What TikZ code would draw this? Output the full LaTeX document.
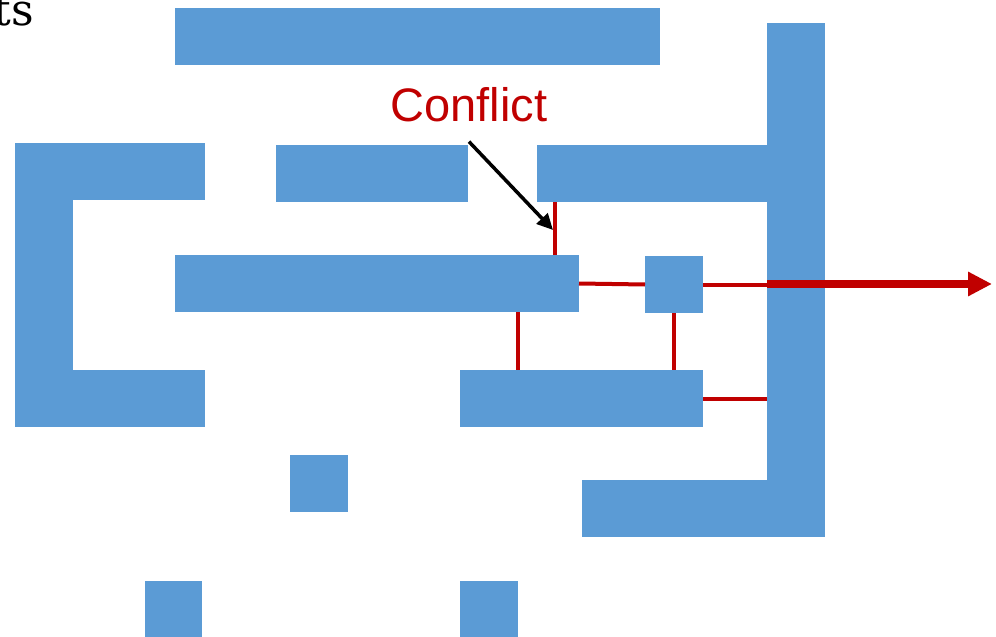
\documentclass[tikz,border=0pt]{standalone}
\usepackage{fontspec}
\setmainfont{Liberation Sans}
\newfontfamily\tsfont{DejaVu Serif}
\usetikzlibrary{arrows.meta}
\definecolor{wallblue}{HTML}{5B9BD5}
\definecolor{conflictred}{HTML}{C00000}

\tikzset{
  wall/.style={fill=wallblue, inner sep=0pt, outer sep=0pt},
  link/.style={draw=conflictred, line width=4pt},
  exitarrow/.style={draw=conflictred, line width=8pt, -{Triangle[length=24pt,width=23pt]}},
  pointer/.style={draw=black, line width=3.5pt, -{Triangle[length=16pt,width=15pt]}}
}

\begin{document}
\begin{tikzpicture}[x=1pt, y=-1pt]
\useasboundingbox (0,0) rectangle (996,637);

\node[anchor=base east, inner sep=0pt] (ts) at (34,25) {\tsfont\fontsize{44}{52}\selectfont ts};

% walls
\node[wall, minimum width=485pt, minimum height=57pt] (top) at (417.5,36.5) {};
\node[wall, minimum width=58pt, minimum height=514pt] (rbar) at (796,280) {};
\node[wall, minimum width=243pt, minimum height=57pt] (brbar) at (703.5,508.5) {};
\node[wall, minimum width=230pt, minimum height=57pt] (trbar) at (652,173.5) {};
\node[wall, minimum width=192pt, minimum height=57pt] (midtop) at (372,173.5) {};
\node[wall, minimum width=190pt, minimum height=57pt] (ctop) at (110,171.5) {};
\node[wall, minimum width=58pt, minimum height=284pt] (cleft) at (44,285) {};
\node[wall, minimum width=190pt, minimum height=57pt] (cbot) at (110,398.5) {};
\node[wall, minimum width=404pt, minimum height=57pt] (long) at (377,283.5) {};
\node[wall, minimum width=58pt, minimum height=57pt] (sq1) at (674,284.5) {};
\node[wall, minimum width=243pt, minimum height=57pt] (low) at (581.5,398.5) {};
\node[wall, minimum width=58pt, minimum height=57pt] (sq2) at (319,483.5) {};
\node[wall, minimum width=57pt, minimum height=57pt] (sq3) at (173.5,609.5) {};
\node[wall, minimum width=58pt, minimum height=57pt] (sq4) at (489,609.5) {};

% red links
\coordinate (c1) at (555,0);
\coordinate (c2) at (517.5,0);
\coordinate (out) at (992,284);
\draw[link] (c1 |- trbar.south) -- (c1 |- long.north);
\draw[link] (long.east) -- (sq1.west);
\draw[link] (sq1.east) -- (rbar.west |- sq1.east);
\draw[link] (c2 |- long.south) -- (c2 |- low.north);
\draw[link] (sq1.south) -- (sq1.south |- low.north);
\draw[link] (low.east) -- (rbar.west |- low.east);
\draw[exitarrow] (rbar.west |- out) -- (out);

\node[anchor=base, inner sep=0pt, text=conflictred, font=\fontsize{47}{56}\selectfont] (cf) at (469,121) {Conflict};
\coordinate (hit) at (553,230);
\draw[pointer] ([yshift=-20pt]cf.south) -- (hit);
\end{tikzpicture}
\end{document}
